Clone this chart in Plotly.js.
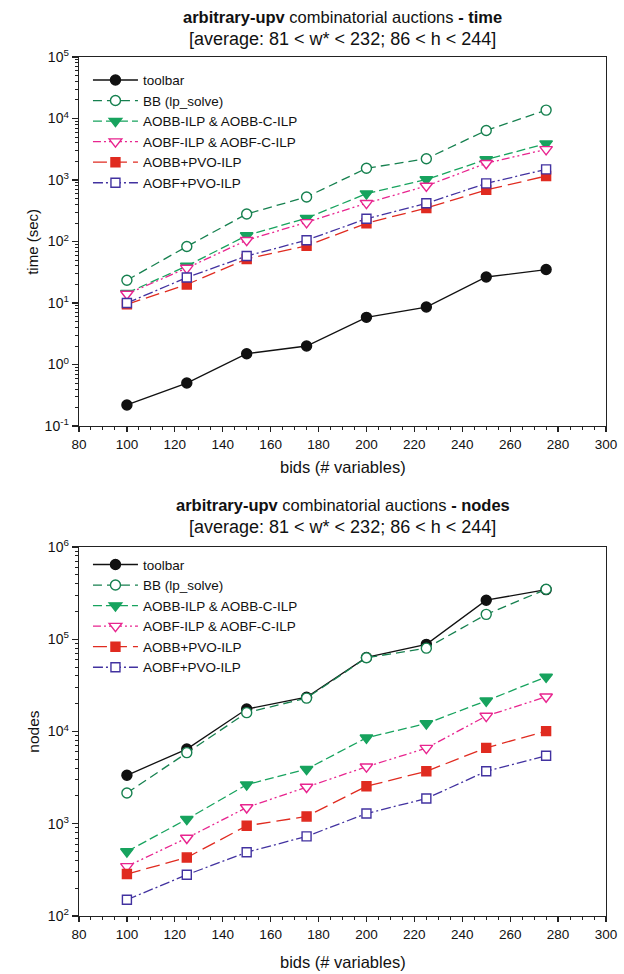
<!DOCTYPE html>
<html>
<head>
<meta charset="utf-8">
<script src="https://cdn.plot.ly/plotly-3.0.1.min.js"></script>
<style>html,body{margin:0;padding:0;background:#fff;}</style>
</head>
<body>
<div id="chart" style="width:624px;height:974px;"></div>
<script>
// ---- data ----
const bids = [100, 125, 150, 175, 200, 225, 250, 275];
const seriesNames = ["toolbar", "BB (lp_solve)", "AOBB-ILP &amp; AOBB-C-ILP", "AOBF-ILP &amp; AOBF-C-ILP", "AOBB+PVO-ILP", "AOBF+PVO-ILP"];

const toolbarTime = [0.22, 0.5, 1.5, 2.0, 5.85, 8.6, 26.5, 35];
const bbTime      = [23.5, 83, 280, 530, 1550, 2220, 6400, 13700];
const aobbTime    = [14.5, 40, 125, 240, 600, 1020, 2150, 3900];
const aobfTime    = [14, 37, 105, 205, 420, 800, 1870, 3150];
const aobbPvoTime = [9.5, 20, 52, 85, 198, 350, 690, 1160];
const aobfPvoTime = [10, 26, 58, 105, 235, 418, 880, 1490];

const toolbarNodes = [3350, 6450, 17500, 23500, 63500, 88000, 265000, 345000];
const bbNodes      = [2150, 5900, 16000, 23000, 63000, 80000, 186000, 348000];
const aobbNodes    = [500, 1120, 2650, 3900, 8550, 12200, 21500, 39000];
const aobfNodes    = [345, 700, 1500, 2500, 4150, 6600, 14700, 23800];
const aobbPvoNodes = [285, 430, 950, 1200, 2550, 3700, 6650, 10100];
const aobfPvoNodes = [150, 280, 490, 730, 1290, 1880, 3700, 5450];

const timeTickVals = [0.1, 1, 10, 100, 1000, 10000, 100000];
const timeTickText = ["10<sup>-1</sup>", "10<sup>0</sup>", "10<sup>1</sup>", "10<sup>2</sup>", "10<sup>3</sup>", "10<sup>4</sup>", "10<sup>5</sup>"];
const nodesTickVals = [100, 1000, 10000, 100000, 1000000];
const nodesTickText = ["10<sup>2</sup>", "10<sup>3</sup>", "10<sup>4</sup>", "10<sup>5</sup>", "10<sup>6</sup>"];

// ---- styles ----
const FONT = "Liberation Sans, Arial, Helvetica, sans-serif";
const styles = [
  {color: "#111111", dash: "solid", symbol: "circle", fill: "#111111", size: 10},
  {color: "#16804f", dash: "9px,5px", symbol: "circle", fill: "#ffffff", size: 10},
  {color: "#17a35e", dash: "9px,4px", symbol: "triangle-down", fill: "#17a35e", size: 11},
  {color: "#e8258f", dash: "8px,3px,2px,3px,2px,3px", symbol: "triangle-down", fill: "#ffffff", size: 11},
  {color: "#e02b20", dash: "14px,6px", symbol: "square", fill: "#e02b20", size: 9},
  {color: "#4232a0", dash: "10px,3px,2px,3px", symbol: "square", fill: "#ffffff", size: 9}
];

const timeSeries = [toolbarTime, bbTime, aobbTime, aobfTime, aobbPvoTime, aobfPvoTime];
const nodeSeries = [toolbarNodes, bbNodes, aobbNodes, aobfNodes, aobbPvoNodes, aobfPvoNodes];

function makeTrace(i, ys, xa, ya, leg) {
  const s = styles[i];
  return {
    x: bids, y: ys, xaxis: xa, yaxis: ya, legend: leg,
    name: seriesNames[i], type: "scatter", mode: "lines+markers",
    line: {color: s.color, width: 1.3, dash: s.dash},
    marker: {symbol: s.symbol, size: s.size, color: s.fill, line: {color: s.color, width: 1.4}}
  };
}

const traces = [];
timeSeries.forEach((ys, i) => traces.push(makeTrace(i, ys, "x", "y", "legend")));
nodeSeries.forEach((ys, i) => traces.push(makeTrace(i, ys, "x2", "y2", "legend2")));

function minorLog(lo, hi) {
  const v = [];
  for (let e = lo; e < hi; e++) for (let d = 2; d <= 9; d++) v.push(d * Math.pow(10, e));
  return v;
}

const xAxisBase = {
  range: [80, 300], tick0: 80, dtick: 20, ticks: "outside", ticklen: 5, tickwidth: 1.2, tickcolor: "#222",
  minor: {dtick: 5, ticks: "outside", ticklen: 3, tickwidth: 1, tickcolor: "#222"},
  showline: true, mirror: true, linecolor: "#222", linewidth: 1.3,
  showgrid: false, zeroline: false, tickfont: {family: FONT, size: 13.5, color: "#111"}
};
function yAxisBase(lo, hi, vals, text, dom) {
  return {
    type: "log", range: [lo, hi], domain: dom, tickmode: "array", tickvals: vals, ticktext: text,
    ticks: "outside", ticklen: 6, tickwidth: 1.2, tickcolor: "#222",
    minor: {tickmode: "array", tickvals: minorLog(lo, hi), ticks: "outside", ticklen: 3, tickwidth: 1, tickcolor: "#222"},
    showline: true, mirror: true, linecolor: "#222", linewidth: 1.3,
    showgrid: false, zeroline: false, tickfont: {family: FONT, size: 14, color: "#111"}
  };
}

const legendBase = {
  xanchor: "left", yanchor: "top", bgcolor: "rgba(0,0,0,0)", borderwidth: 0,
  font: {family: FONT, size: 13.5, color: "#111"}, tracegroupgap: 0, itemwidth: 45
};

const topDom = [0.5704, 1];
const botDom = [0, 0.4296];

function ann(text, x, y, size, extra) {
  return Object.assign({text: text, xref: "paper", yref: "paper", x: x, y: y, showarrow: false,
    xanchor: "center", yanchor: "middle", font: {size: size, family: FONT, color: "#111"}}, extra || {});
}

const layout = {
  width: 624, height: 974, autosize: false,
  margin: {l: 79, r: 18, t: 57, b: 58},
  paper_bgcolor: "#fff", plot_bgcolor: "#fff",
  font: {family: FONT, color: "#111"},
  xaxis: Object.assign({}, xAxisBase, {anchor: "y"}),
  yaxis: Object.assign(yAxisBase(-1, 5, timeTickVals, timeTickText, topDom), {anchor: "x"}),
  xaxis2: Object.assign({}, xAxisBase, {anchor: "y2"}),
  yaxis2: Object.assign(yAxisBase(2, 6, nodesTickVals, nodesTickText, botDom), {anchor: "x2"}),
  legend: Object.assign({}, legendBase, {x: 0.017, y: 0.991}),
  legend2: Object.assign({}, legendBase, {x: 0.017, y: 0.427}),
  showlegend: true,
  annotations: [
    ann("<b>arbitrary-upv</b> combinatorial auctions <b>- time</b>", 0.5, 1.0466, 16.5),
    ann("[average: 81 &lt; w* &lt; 232; 86 &lt; h &lt; 244]", 0.5, 1.0205, 18),
    ann("<b>arbitrary-upv</b> combinatorial auctions <b>- nodes</b>", 0.5, 0.4785, 16.5),
    ann("[average: 81 &lt; w* &lt; 232; 86 &lt; h &lt; 244]", 0.5, 0.4524, 18),
    ann("time (sec)", -0.087, 0.785, 15, {textangle: -90}),
    ann("nodes", -0.087, 0.2148, 15.5, {textangle: -90}),
    ann("bids (# variables)", 0.5, 0.5227, 16.5),
    ann("bids (# variables)", 0.5, -0.0536, 16.5)
  ]
};

Plotly.newPlot("chart", traces, layout, {staticPlot: true, displayModeBar: false});
</script>
</body>
</html>
